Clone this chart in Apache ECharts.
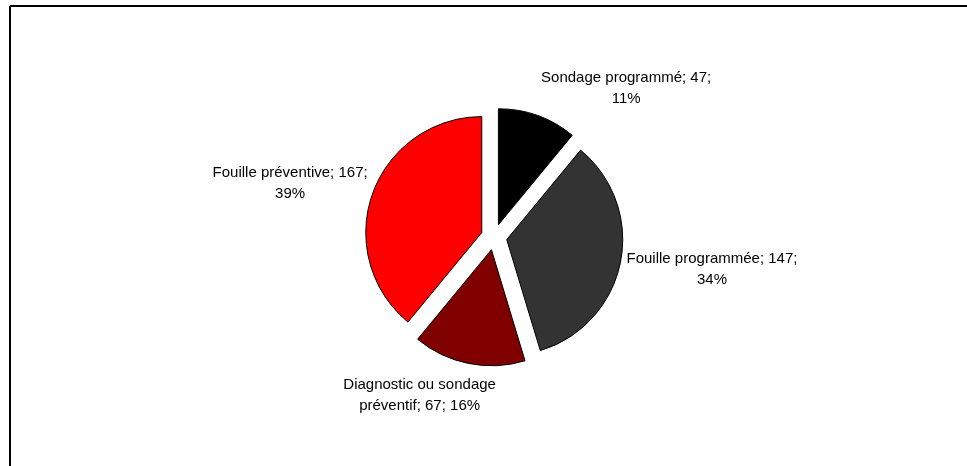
<!DOCTYPE html>
<html>
<head>
<meta charset="utf-8">
<script src="https://cdn.jsdelivr.net/npm/echarts@6/dist/echarts.min.js"></script>
<style>html,body{margin:0;padding:0;background:#fff}#c{width:967px;height:466px}</style>
</head>
<body>
<div id="c"></div>
<script>
const categories = ['Sondage programmé', 'Fouille programmée', 'Diagnostic ou sondage préventif', 'Fouille préventive'];
const values = [47, 147, 67, 167];
const percents = ['11%', '34%', '16%', '39%'];
const labelTexts = [
  'Sondage programmé; 47;\n11%',
  'Fouille programmée; 147;\n34%',
  'Diagnostic ou sondage\npréventif; 67; 16%',
  'Fouille préventive; 167;\n39%'
];
const colors = ['#000000', '#333333', '#800000', '#FF0000'];
// label nudges from the default outside spot (layout styling, not data)
const labelShift = [[83.5, -27.5], [86.5, 7], [-44, 31.5], [-77.5, -10]];

const chart = echarts.init(document.getElementById('c'), null, {renderer: 'canvas'});
chart.setOption({
  animation: false,
  backgroundColor: '#ffffff',
  graphic: [
    {type: 'line', shape: {x1: 10, y1: 6, x2: 967, y2: 6}, style: {stroke: '#000', lineWidth: 2}},
    {type: 'line', shape: {x1: 10, y1: 6, x2: 10, y2: 466}, style: {stroke: '#000', lineWidth: 2}}
  ],
  series: [{
    type: 'pie',
    center: [494, 237],
    radius: [0, 116],
    startAngle: 90,
    clockwise: true,
    selectedMode: 'multiple',
    selectedOffset: 13,
    avoidLabelOverlap: false,
    itemStyle: {borderColor: '#000', borderWidth: 1},
    emphasis: {disabled: true},
    label: {
      show: true,
      position: 'outside',
      fontFamily: 'Liberation Sans',
      fontSize: 15,
      color: '#000',
      lineHeight: 21,
      align: 'center',
      formatter: p => labelTexts[p.dataIndex]
    },
    labelLine: {show: false, length: 0, length2: 0},
    labelLayout: p => ({
      dx: labelShift[p.dataIndex][0],
      dy: labelShift[p.dataIndex][1],
      align: 'center',
      verticalAlign: 'middle'
    }),
    data: categories.map((c, i) => ({
      name: c, value: values[i], selected: true,
      itemStyle: {color: colors[i]}
    }))
  }]
});
</script>
</body>
</html>
